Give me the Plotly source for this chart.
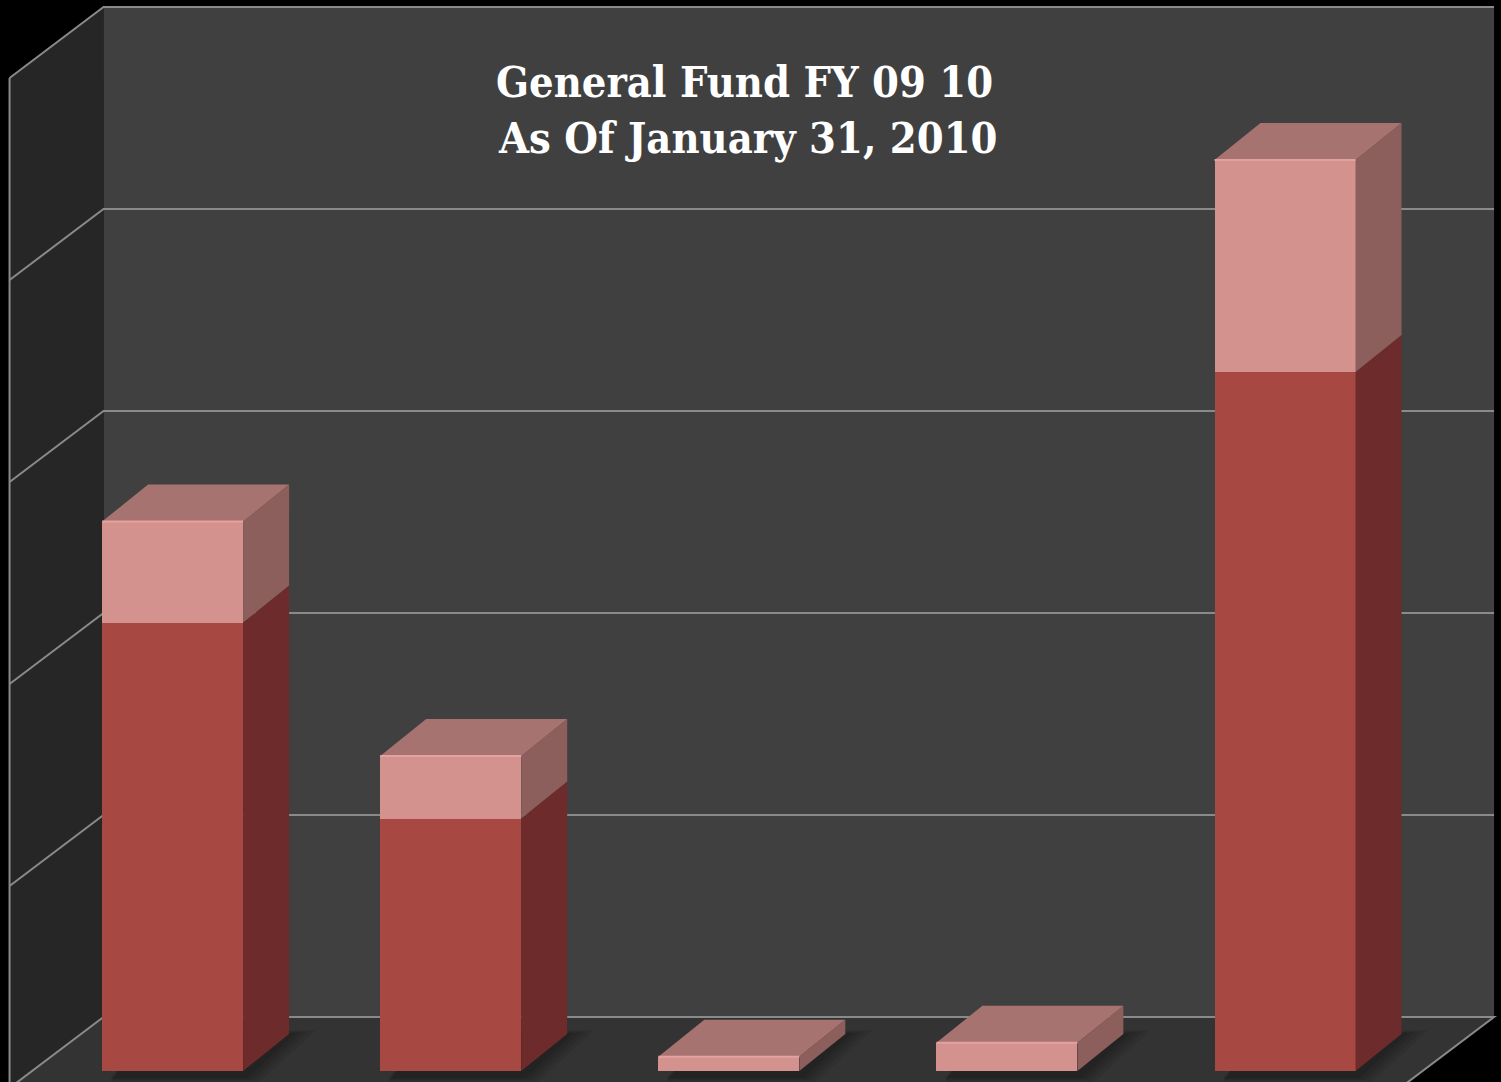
import plotly.graph_objects as go

# ---- data ----
categories = [0, 1, 2, 3, 4]
base_values = [2.22, 1.25, 0.0, 0.0, 3.46]   # dark red segment
top_values = [0.50, 0.31, 0.07, 0.14, 1.05]  # light pink segment
grid_values = [0, 1, 2, 3, 4, 5]
title_lines = ["General Fund FY 09 10", "As Of January 31, 2010"]

# ---- geometry / style ----
W, H = 1501, 1082
PX_PER_CAT = 278.1
PX_PER_UNIT = 202.0
X0_PX = 172.6      # pixel of category 0 centre (front plane)
Y0_PX = 1071.0     # pixel of value 0 (front plane of bars)
BAR_W = 0.507

def ox(px):
    return px / PX_PER_CAT

def oy(px):
    return px / PX_PER_UNIT

# depth offsets (data units)
bdx, bdy = ox(46), oy(37)       # bar depth
wbx, wby = ox(70), oy(54)       # back wall offset
wfx, wfy = ox(-24), oy(-17)     # front of walls offset
lo, hi = -0.5, 4.5

xr = [-X0_PX / PX_PER_CAT, (W - X0_PX) / PX_PER_CAT]
yr = [-(H - Y0_PX) / PX_PER_UNIT, Y0_PX / PX_PER_UNIT]

BACK = "#404040"
LEFT = "#262626"
FLOOR = "#333333"
GRID = "#8a8a8a"
DARK_FRONT = "#A84843"
DARK_SIDE = "#6D2B2B"
PINK_FRONT = "#D4928F"
PINK_SIDE = "#8C5E5C"
PINK_TOP = "#A77371"

ymax = max(grid_values)
shapes = []

def poly(pts, color, layer="below"):
    path = "M " + " L ".join(f"{x},{y}" for x, y in pts) + " Z"
    return dict(type="path", path=path, xref="x", yref="y", fillcolor=color,
                line=dict(width=0), layer=layer)

# floor
shapes.append(poly([(lo + wbx, wby), (hi + wbx, wby), (hi + wfx, wfy), (lo + wfx, wfy)], FLOOR))
# left wall
shapes.append(poly([(lo + wbx, wby), (lo + wbx, ymax + wby), (lo + wfx, ymax + wfy), (lo + wfx, wfy)], LEFT))
# back wall
shapes.append(poly([(lo + wbx, wby), (hi + wbx, wby), (hi + wbx, ymax + wby), (lo + wbx, ymax + wby)], BACK))

# gridlines on left + back wall
for v in grid_values:
    path = f"M {lo + wfx},{v + wfy} L {lo + wbx},{v + wby} L {hi + wbx},{v + wby}"
    if v == 0:
        path += f" L {hi + wfx},{v + wfy}"
    shapes.append(dict(type="path", path=path, xref="x", yref="y",
                       line=dict(color=GRID, width=2), layer="below"))
# left wall front vertical edge
shapes.append(dict(type="line", xref="x", yref="y", x0=lo + wfx, x1=lo + wfx,
                   y0=wfy, y1=ymax + wfy, line=dict(color=GRID, width=2), layer="below"))

# faint soft shadows on the floor to the right of / behind each bar (below the bars)
for i, (d, p) in enumerate(zip(base_values, top_values)):
    c = categories[i]
    xl, xrt = c - BAR_W / 2, c + BAR_W / 2
    for k in range(4):
        s = 0.015 * (k + 1)
        shapes.append(poly([(xl + 0.03, -0.03 - s * 0.4), (xrt + s, -0.03 - s * 0.4),
                            (xrt + bdx + s * 1.6, bdy + s * 0.3), (xl + bdx, bdy + s * 0.3)],
                           "rgba(0,0,0,0.08)"))

fig = go.Figure()

fig.add_trace(go.Bar(x=categories, y=base_values, width=BAR_W,
                     marker=dict(color=DARK_FRONT, line=dict(width=0)), showlegend=False,
                     hoverinfo="skip"))
fig.add_trace(go.Bar(x=categories, y=top_values, width=BAR_W,
                     marker=dict(color=PINK_FRONT, line=dict(width=0)), showlegend=False,
                     hoverinfo="skip"))

def face(xs, ys, color):
    fig.add_trace(go.Scatter(x=xs, y=ys, fill="toself", fillcolor=color, mode="lines",
                             line=dict(width=0, color=color), hoverinfo="skip", showlegend=False))

for i, (d, p) in enumerate(zip(base_values, top_values)):
    c = categories[i]
    xl, xrt = c - BAR_W / 2, c + BAR_W / 2
    t = d + p
    if d > 0:
        face([xrt, xrt + bdx, xrt + bdx, xrt], [0, bdy, d + bdy, d], DARK_SIDE)
    face([xrt, xrt + bdx, xrt + bdx, xrt], [d, d + bdy, t + bdy, t], PINK_SIDE)
    face([xl, xrt, xrt + bdx, xl + bdx], [t, t, t + bdy, t + bdy], PINK_TOP)

# highlight line at the top front edge of each bar
for i, (d, p) in enumerate(zip(base_values, top_values)):
    c = categories[i]
    t = d + p
    fig.add_trace(go.Scatter(x=[c - BAR_W / 2, c + BAR_W / 2], y=[t, t], mode="lines",
                             line=dict(color="#E3A29F", width=2), hoverinfo="skip", showlegend=False))

TITLE_FONT = "DejaVu Serif Condensed, DejaVu Serif, serif"
fig.update_layout(
    width=W, height=H, margin=dict(l=0, r=0, t=0, b=0),
    paper_bgcolor="black", plot_bgcolor="black",
    barmode="stack", bargap=0,
    xaxis=dict(range=xr, visible=False, fixedrange=True),
    yaxis=dict(range=yr, visible=False, fixedrange=True),
    shapes=shapes,
    annotations=[
        dict(text=f"<b>{title_lines[0]}</b>", x=744 / W, y=1 - 82 / H, xref="paper", yref="paper",
             showarrow=False, xanchor="center", yanchor="middle",
             font=dict(family=TITLE_FONT, size=43, color="white")),
        dict(text=f"<b>{title_lines[1]}</b>", x=748 / W, y=1 - 138 / H, xref="paper", yref="paper",
             showarrow=False, xanchor="center", yanchor="middle",
             font=dict(family=TITLE_FONT, size=43, color="white")),
    ],
)

fig.write_html("out.html", config={"displayModeBar": False},
               post_script="document.body.style.margin='0';")
